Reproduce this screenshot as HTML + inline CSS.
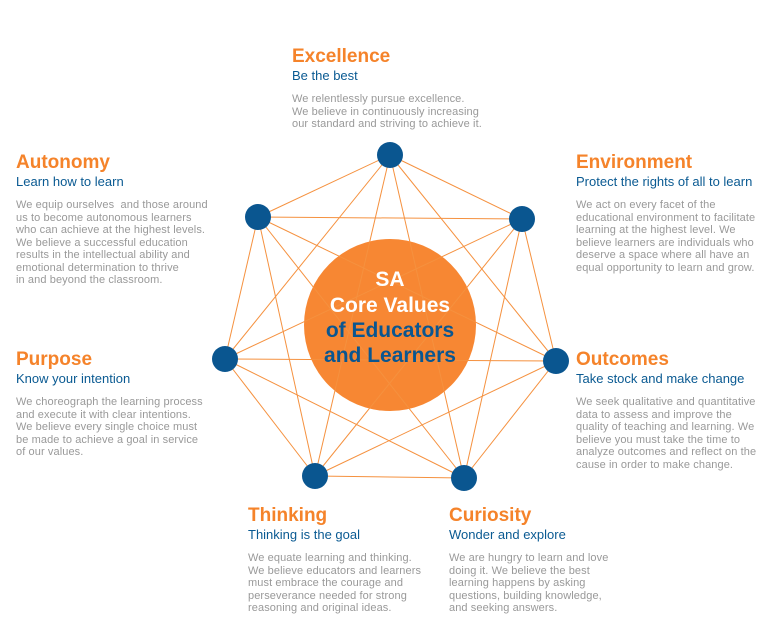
<!DOCTYPE html>
<html><head><meta charset="utf-8"><style>
body{margin:0;width:781px;height:636px;background:#fff;position:relative;overflow:hidden;font-family:"Liberation Sans",sans-serif}
.b{position:absolute}
.b h{display:block;color:#f5832a;font-weight:bold;font-size:19px;line-height:22px}
.b s{display:block;text-decoration:none;color:#0a5a92;font-size:13px;line-height:16px;margin-bottom:9px}
.b p{margin:0;color:#999;font-size:11px;line-height:12.5px;white-space:nowrap;letter-spacing:0.1px}
svg{position:absolute;left:0;top:0}
</style></head><body>
<svg width="781" height="636">
<circle cx="390" cy="325" r="86" fill="#f78733"/>
<g stroke="#f5913f" stroke-width="1" fill="none" id="l"></g>
<g fill="#0a5690">
<circle cx="390" cy="155" r="13"/><circle cx="258" cy="217" r="13"/><circle cx="522" cy="219" r="13"/>
<circle cx="225" cy="359" r="13"/><circle cx="556" cy="361" r="13"/><circle cx="315" cy="476" r="13"/><circle cx="464" cy="478" r="13"/>
</g>
<g font-family="Liberation Sans" font-weight="bold" font-size="21" text-anchor="middle">
<text x="390" y="286" fill="#fff">SA</text>
<text x="390" y="312" fill="#fff">Core Values</text>
<text x="390" y="337" fill="#0a5690">of Educators</text>
<text x="390" y="362" fill="#0a5690">and Learners</text>
</g>
</svg>
<script>
var p=[[390,155],[258,217],[522,219],[225,359],[556,361],[315,476],[464,478]],g=document.getElementById('l'),s='';
for(var i=0;i<7;i++)for(var j=i+1;j<7;j++)s+='<line x1="'+p[i][0]+'" y1="'+p[i][1]+'" x2="'+p[j][0]+'" y2="'+p[j][1]+'"/>';
g.innerHTML=s;
</script>
<div class="b" style="left:292px;top:46px"><h>Excellence</h><s>Be the best</s><p>We relentlessly pursue excellence.<br>We believe in continuously increasing<br>our standard and striving to achieve it.</p></div>
<div class="b" style="left:16px;top:152px"><h>Autonomy</h><s>Learn how to learn</s><p>We equip ourselves &nbsp;and those around<br>us to become autonomous learners<br>who can achieve at the highest levels.<br>We believe a successful education<br>results in the intellectual ability and<br>emotional determination to thrive<br>in and beyond the classroom.</p></div>
<div class="b" style="left:576px;top:152px"><h>Environment</h><s>Protect the rights of all to learn</s><p>We act on every facet of the<br>educational environment to facilitate<br>learning at the highest level. We<br>believe learners are individuals who<br>deserve a space where all have an<br>equal opportunity to learn and grow.</p></div>
<div class="b" style="left:16px;top:349px"><h>Purpose</h><s>Know your intention</s><p>We choreograph the learning process<br>and execute it with clear intentions.<br>We believe every single choice must<br>be made to achieve a goal in service<br>of our values.</p></div>
<div class="b" style="left:576px;top:349px"><h>Outcomes</h><s>Take stock and make change</s><p>We seek qualitative and quantitative<br>data to assess and improve the<br>quality of teaching and learning. We<br>believe you must take the time to<br>analyze outcomes and reflect on the<br>cause in order to make change.</p></div>
<div class="b" style="left:248px;top:505px"><h>Thinking</h><s>Thinking is the goal</s><p>We equate learning and thinking.<br>We believe educators and learners<br>must embrace the courage and<br>perseverance needed for strong<br>reasoning and original ideas.</p></div>
<div class="b" style="left:449px;top:505px"><h>Curiosity</h><s>Wonder and explore</s><p>We are hungry to learn and love<br>doing it. We believe the best<br>learning happens by asking<br>questions, building knowledge,<br>and seeking answers.</p></div>
</body></html>
